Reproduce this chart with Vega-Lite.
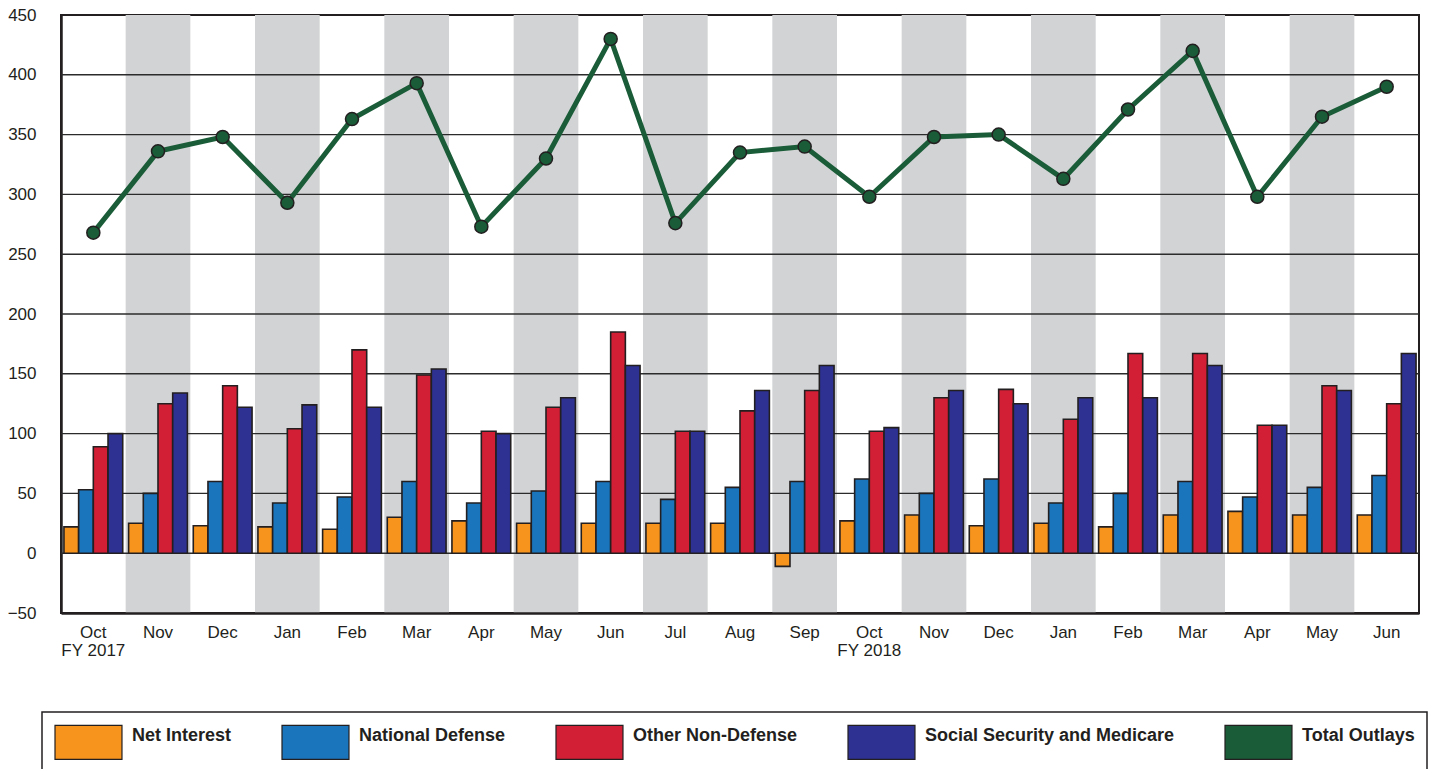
{
  "$schema": "https://vega.github.io/schema/vega-lite/v6.json",
  "width": 1358,
  "height": 598,
  "autosize": "none",
  "padding": {"left": 61, "top": 15, "right": 21, "bottom": 156},
  "background": "white",
  "config": {
    "font": "Liberation Sans",
    "view": {"stroke": "#231F20", "strokeWidth": 2},
    "axis": {"labelFont": "Liberation Sans", "labelFontSize": 17, "labelColor": "#231F20", "ticks": false, "grid": false, "title": null, "domainColor": "#231F20", "domainWidth": 2.5}
  },
  "datasets": {
    "months": [
      {"month": "2016-10", "Net Interest": 22, "National Defense": 53, "Other Non-Defense": 89, "Social Security and Medicare": 100, "Total Outlays": 268},
      {"month": "2016-11", "Net Interest": 25, "National Defense": 50, "Other Non-Defense": 125, "Social Security and Medicare": 134, "Total Outlays": 336},
      {"month": "2016-12", "Net Interest": 23, "National Defense": 60, "Other Non-Defense": 140, "Social Security and Medicare": 122, "Total Outlays": 348},
      {"month": "2017-01", "Net Interest": 22, "National Defense": 42, "Other Non-Defense": 104, "Social Security and Medicare": 124, "Total Outlays": 293},
      {"month": "2017-02", "Net Interest": 20, "National Defense": 47, "Other Non-Defense": 170, "Social Security and Medicare": 122, "Total Outlays": 363},
      {"month": "2017-03", "Net Interest": 30, "National Defense": 60, "Other Non-Defense": 149, "Social Security and Medicare": 154, "Total Outlays": 393},
      {"month": "2017-04", "Net Interest": 27, "National Defense": 42, "Other Non-Defense": 102, "Social Security and Medicare": 100, "Total Outlays": 273},
      {"month": "2017-05", "Net Interest": 25, "National Defense": 52, "Other Non-Defense": 122, "Social Security and Medicare": 130, "Total Outlays": 330},
      {"month": "2017-06", "Net Interest": 25, "National Defense": 60, "Other Non-Defense": 185, "Social Security and Medicare": 157, "Total Outlays": 430},
      {"month": "2017-07", "Net Interest": 25, "National Defense": 45, "Other Non-Defense": 102, "Social Security and Medicare": 102, "Total Outlays": 276},
      {"month": "2017-08", "Net Interest": 25, "National Defense": 55, "Other Non-Defense": 119, "Social Security and Medicare": 136, "Total Outlays": 335},
      {"month": "2017-09", "Net Interest": -11, "National Defense": 60, "Other Non-Defense": 136, "Social Security and Medicare": 157, "Total Outlays": 340},
      {"month": "2017-10", "Net Interest": 27, "National Defense": 62, "Other Non-Defense": 102, "Social Security and Medicare": 105, "Total Outlays": 298},
      {"month": "2017-11", "Net Interest": 32, "National Defense": 50, "Other Non-Defense": 130, "Social Security and Medicare": 136, "Total Outlays": 348},
      {"month": "2017-12", "Net Interest": 23, "National Defense": 62, "Other Non-Defense": 137, "Social Security and Medicare": 125, "Total Outlays": 350},
      {"month": "2018-01", "Net Interest": 25, "National Defense": 42, "Other Non-Defense": 112, "Social Security and Medicare": 130, "Total Outlays": 313},
      {"month": "2018-02", "Net Interest": 22, "National Defense": 50, "Other Non-Defense": 167, "Social Security and Medicare": 130, "Total Outlays": 371},
      {"month": "2018-03", "Net Interest": 32, "National Defense": 60, "Other Non-Defense": 167, "Social Security and Medicare": 157, "Total Outlays": 420},
      {"month": "2018-04", "Net Interest": 35, "National Defense": 47, "Other Non-Defense": 107, "Social Security and Medicare": 107, "Total Outlays": 298},
      {"month": "2018-05", "Net Interest": 32, "National Defense": 55, "Other Non-Defense": 140, "Social Security and Medicare": 136, "Total Outlays": 365},
      {"month": "2018-06", "Net Interest": 32, "National Defense": 65, "Other Non-Defense": 125, "Social Security and Medicare": 167, "Total Outlays": 390}
    ],
    "shaded": [
      {"month": "2016-11"}, {"month": "2017-01"}, {"month": "2017-03"}, {"month": "2017-05"}, {"month": "2017-07"},
      {"month": "2017-09"}, {"month": "2017-11"}, {"month": "2018-01"}, {"month": "2018-03"}, {"month": "2018-05"}
    ],
    "grid": [{"v": 0}, {"v": 50}, {"v": 100}, {"v": 150}, {"v": 200}, {"v": 250}, {"v": 300}, {"v": 350}, {"v": 400}]
  },
  "layer": [
    {
      "data": {"name": "shaded"},
      "mark": {"type": "rect", "fill": "#D1D3D4"},
      "encoding": {
        "x": {
          "field": "month", "type": "nominal", "sort": null,
          "scale": {"domain": ["2016-10","2016-11","2016-12","2017-01","2017-02","2017-03","2017-04","2017-05","2017-06","2017-07","2017-08","2017-09","2017-10","2017-11","2017-12","2018-01","2018-02","2018-03","2018-04","2018-05","2018-06"], "paddingInner": 0, "paddingOuter": 0},
          "axis": {
            "labelAngle": 0, "labelPadding": 11, "labelLineHeight": 18, "labelBaseline": "top",
            "labelExpr": "datum.value == '2016-10' ? ['Oct', 'FY 2017'] : datum.value == '2017-10' ? ['Oct', 'FY 2018'] : monthAbbrevFormat(toNumber(slice(datum.value, 5)) - 1)"
          }
        },
        "y": {"datum": 450, "type": "quantitative", "scale": {"domain": [-50, 450], "nice": false, "zero": false},
              "axis": {"values": [-50, 0, 50, 100, 150, 200, 250, 300, 350, 400, 450], "labelPadding": 25}},
        "y2": {"datum": -50}
      }
    },
    {
      "data": {"name": "grid"},
      "mark": {"type": "rule", "stroke": "#2b2b2b", "strokeWidth": 1.4},
      "encoding": {"y": {"field": "v", "type": "quantitative"}}
    },
    {
      "data": {"name": "months"},
      "transform": [{"fold": ["Net Interest", "National Defense", "Other Non-Defense", "Social Security and Medicare"], "as": ["series", "value"]}],
      "mark": {"type": "bar", "stroke": "#231F20", "strokeWidth": 1.6, "opacity": 1},
      "encoding": {
        "x": {"field": "month", "type": "nominal", "sort": null},
        "xOffset": {"field": "series", "type": "nominal", "sort": ["Net Interest", "National Defense", "Other Non-Defense", "Social Security and Medicare"], "scale": {"paddingInner": 0, "paddingOuter": 0.2}},
        "y": {"field": "value", "type": "quantitative"},
        "color": {
          "field": "series", "type": "nominal",
          "scale": {"domain": ["Net Interest", "National Defense", "Other Non-Defense", "Social Security and Medicare", "Total Outlays"],
                    "range": ["#F7941D", "#1B75BC", "#D21F35", "#2E3192", "#1A5C38"]},
          "legend": {
            "orient": "none", "legendX": -19, "legendY": 697,
            "direction": "horizontal", "columns": 5, "title": null,
            "symbolType": "M-1,-1H2.94V1H-1Z", "symbolSize": 1156,
            "symbolStrokeColor": "#231F20", "symbolStrokeWidth": 1.2, "symbolOpacity": 1,
            "labelFont": "Liberation Sans", "labelFontSize": 18, "labelFontWeight": "bold", "labelColor": "#231F20",
            "labelLimit": 400, "labelOffset": 42, "columnPadding": 47, "padding": 12,
            "strokeColor": "#231F20", "fillColor": "white",
            "encode": {"labels": {"update": {"dy": {"value": -6}}}, "legend": {"update": {"strokeWidth": {"value": 1.5}}}}
          }
        }
      }
    },
    {
      "data": {"name": "months"},
      "mark": {"type": "line", "stroke": "#1A5C38", "strokeWidth": 5},
      "encoding": {
        "x": {"field": "month", "type": "nominal", "sort": null},
        "y": {"field": "Total Outlays", "type": "quantitative"}
      }
    },
    {
      "data": {"name": "months"},
      "mark": {"type": "point", "shape": "circle", "filled": true, "fill": "#1A5C38", "stroke": "#231F20", "strokeWidth": 1.5, "size": 170, "opacity": 1},
      "encoding": {
        "x": {"field": "month", "type": "nominal", "sort": null},
        "y": {"field": "Total Outlays", "type": "quantitative"}
      }
    }
  ]
}
